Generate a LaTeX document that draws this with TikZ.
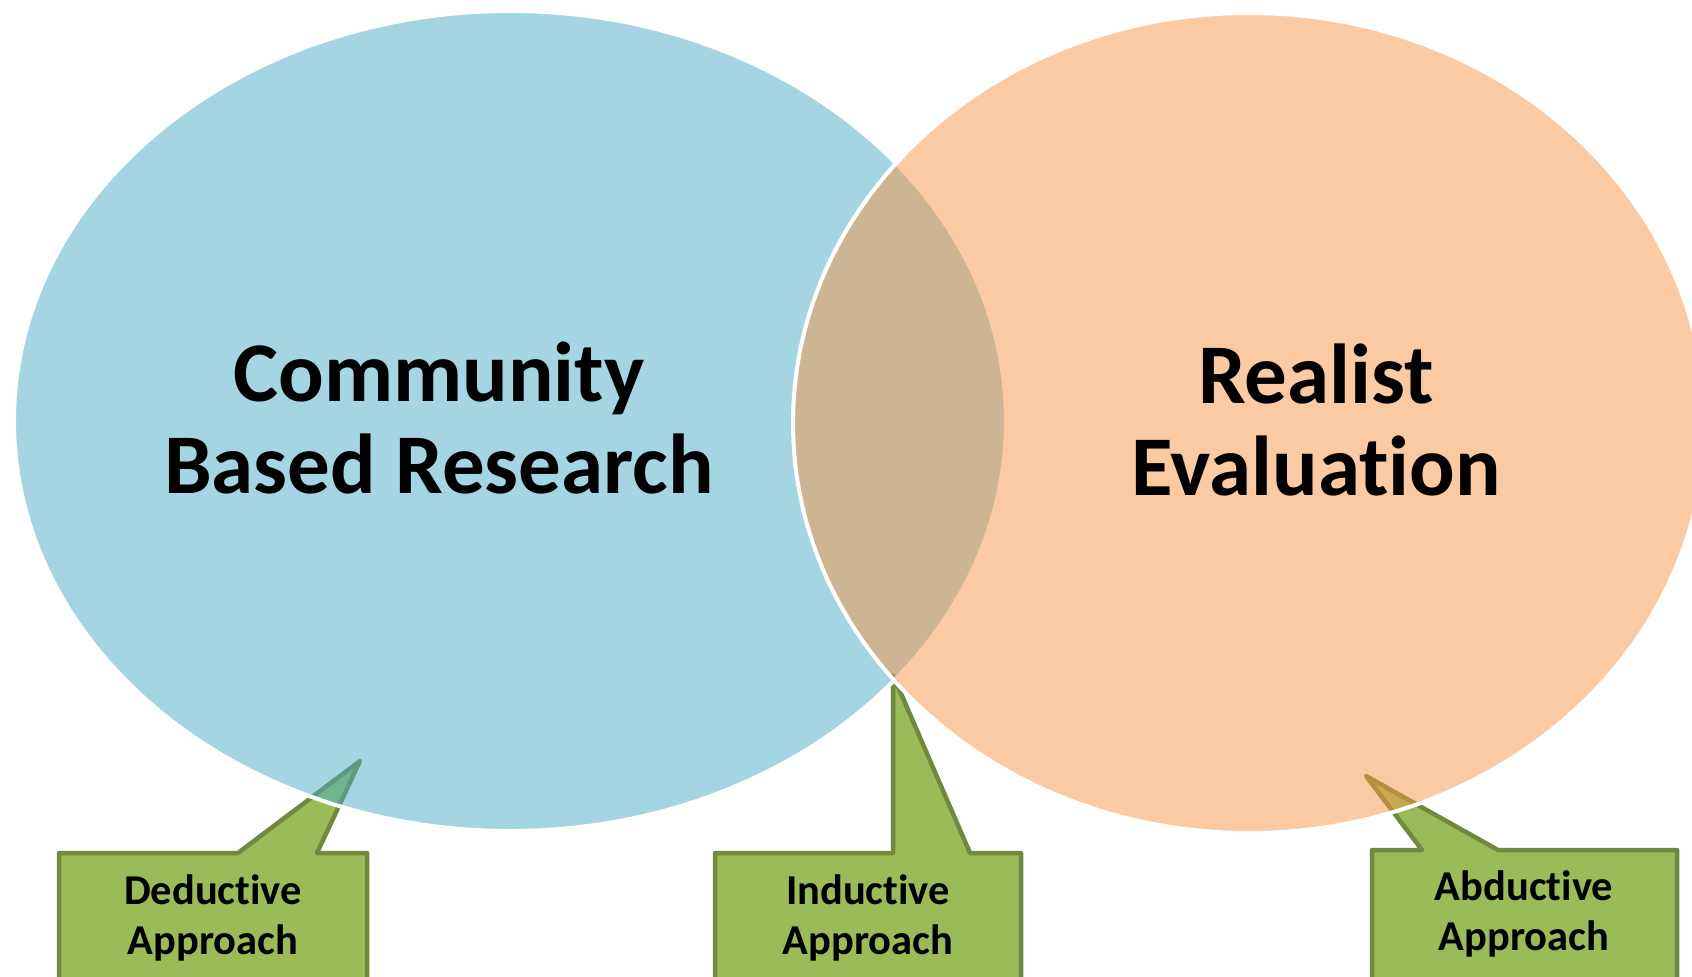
\documentclass[tikz,border=0pt]{standalone}
\usepackage{fontspec}
\setmainfont{Carlito}[Ligatures=NoCommon]
\usepackage{tikz}
\usetikzlibrary{calc,positioning}
\definecolor{cbrblue}{HTML}{4BACC6}
\definecolor{reorange}{HTML}{F79646}
\definecolor{calloutgreen}{HTML}{9BBB59}
\definecolor{calloutedge}{HTML}{71893F}

\begin{document}
\begin{tikzpicture}[x=1pt,y=-1pt,
  venn/.style={fill opacity=0.5,draw=white,line width=4pt},
  callout/.style={fill=calloutgreen,draw=calloutedge,line width=4.5pt,line join=round},
  bigtext/.style={font=\bfseries\fontsize{85}{92}\selectfont,align=center},
  smalltext/.style={font=\bfseries\fontsize{42.5}{50}\selectfont,align=center}]
\useasboundingbox (0,0) rectangle (1692,977);
\clip (0,0) rectangle (1692,977);
% callouts (under the circles)
\draw[callout] (59,853) -- (238,853) -- (360,761) -- (317,853) -- (367,853) -- (367,995) -- (59,995) -- cycle;
\draw[callout] (715,853) -- (893,853) -- (893,675) -- (970,853) -- (1021,853) -- (1021,995) -- (715,995) -- cycle;
\draw[callout] (1372,850) -- (1422,850) -- (1366,776) -- (1498,850) -- (1677,850) -- (1677,995) -- (1372,995) -- cycle;
% circles
\path[venn,fill=cbrblue] (510,421) ellipse [x radius=496pt, y radius=410pt];
\path[venn,fill=reorange] (1249,423) ellipse [x radius=456pt, y radius=410pt];
% labels
\node[bigtext] (cbr) at (439,418) {Community\\Based Research};
\node[bigtext] (realist) at (1316,420) {Realist\\Evaluation};
\node[smalltext] (deductive) at (213,918) {Deductive\\Approach};
\node[smalltext] (inductive) at (868,918) {Inductive\\Approach};
\node[smalltext] (abductive) at (1524,914) {Abductive\\Approach};
\end{tikzpicture}
\end{document}
